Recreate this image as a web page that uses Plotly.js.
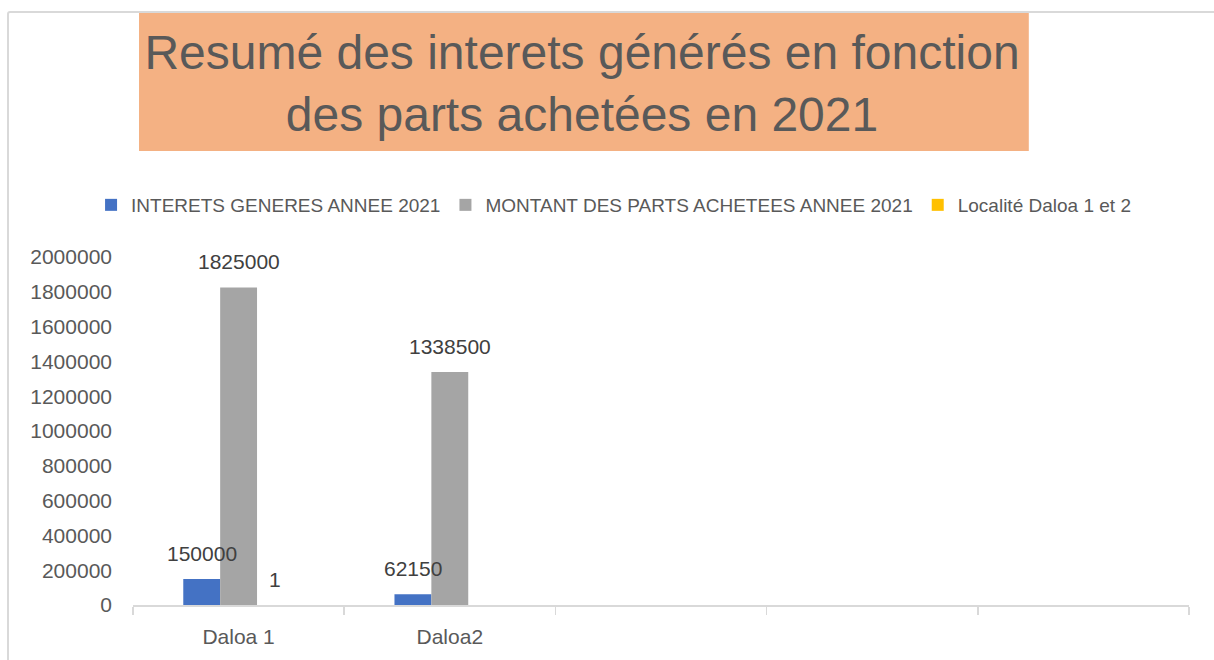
<!DOCTYPE html>
<html>
<head>
<meta charset="utf-8">
<script src="https://cdn.plot.ly/plotly-3.0.1.min.js"></script>
<style>
  html, body { margin: 0; padding: 0; background: #ffffff; overflow: hidden; }
  #frame { position: absolute; left: 7px; top: 11px; width: 1400px; height: 800px;
           border: 2px solid #d9d9d9; border-radius: 3px; box-sizing: border-box; }
  #chart { position: absolute; left: 0; top: 0; width: 1214px; height: 660px; }
</style>
</head>
<body>
<div id="frame"></div>
<div id="chart"></div>
<script>
// ---- data ----
const categories = ['Daloa 1', 'Daloa2', '', '', ''];
const seriesNames = ['INTERETS GENERES ANNEE 2021', 'MONTANT DES PARTS ACHETEES ANNEE 2021', 'Localité Daloa 1 et 2'];
const interets = [150000, 62150, null, null, null];
const montants = [1825000, 1338500, null, null, null];
const localite = [1, null, null, null, null];
const yTickValues = [0, 200000, 400000, 600000, 800000, 1000000, 1200000, 1400000, 1600000, 1800000, 2000000];
const titleText = 'Resumé des interets générés en fonction<br>des parts achetées en 2021';

// ---- styles ----
const colors = ['#4472C4', '#A5A5A5', '#FFC000'];
const textColor = '#595959';
const labelColor = '#404040';
const baseFont = 'Liberation Sans, Arial, sans-serif';
const bargap = 0.476;

const keys = categories.map((c, i) => 'cat' + i);
const allSeries = [interets, montants, localite];

const traces = allSeries.map((vals, s) => ({
  type: 'bar',
  name: seriesNames[s],
  x: keys,
  y: vals,
  marker: { color: colors[s] },
  hoverinfo: 'x+y'
}));

// data labels as annotations centred on each bar
const barW = (1 - bargap) / allSeries.length;
const annotations = [];
allSeries.forEach((vals, s) => {
  vals.forEach((v, j) => {
    if (v === null || v === undefined) return;
    annotations.push({
      x: j + (s - (allSeries.length - 1) / 2) * barW,
      y: v,
      xref: 'x', yref: 'y',
      text: String(v),
      showarrow: false,
      yanchor: 'bottom',
      yshift: 12,
      font: { family: baseFont, size: 21, color: labelColor }
    });
  });
});

const layout = {
  width: 1214,
  height: 660,
  margin: { l: 133, r: 25, t: 257, b: 55 },
  paper_bgcolor: 'rgba(0,0,0,0)',
  plot_bgcolor: 'rgba(0,0,0,0)',
  barmode: 'group',
  bargap: bargap,
  bargroupgap: 0,
  title: {
    text: titleText,
    x: 0.4794, xanchor: 'center',
    xref: 'container', yref: 'container',
    y: 0.8957, yanchor: 'middle',
    font: { family: baseFont, size: 48, color: textColor }
  },
  shapes: [{
    type: 'rect', xref: 'paper', yref: 'paper', layer: 'below',
    x0: 0.0057, x1: 0.8483, y0: 1.3046, y1: 1.7011,
    fillcolor: '#F4B183', line: { width: 0 }
  }],
  legend: {
    orientation: 'h',
    xref: 'container', yref: 'container',
    x: 0.5054, xanchor: 'center',
    y: 1 - 205 / 660, yanchor: 'middle',
    font: { family: baseFont, size: 19, color: textColor },
    itemclick: false
  },
  xaxis: {
    type: 'category',
    categoryorder: 'array',
    categoryarray: keys,
    tickvals: keys,
    ticktext: categories,
    tickson: 'boundaries',
    ticks: 'outside',
    ticklen: 8,
    tickcolor: '#d9d9d9',
    tickwidth: 1.5,
    showline: true,
    linecolor: '#d9d9d9',
    linewidth: 1.5,
    showgrid: false,
    zeroline: false,
    ticklabelstandoff: 12,
    tickfont: { family: baseFont, size: 21, color: textColor }
  },
  yaxis: {
    range: [0, 2000000],
    tickvals: yTickValues,
    ticktext: yTickValues.map(String),
    showgrid: false,
    zeroline: false,
    showline: false,
    ticks: '',
    ticklabelstandoff: 20,
    tickfont: { family: baseFont, size: 21, color: textColor }
  },
  annotations: annotations,
  showlegend: true
};

Plotly.newPlot('chart', traces, layout, { displayModeBar: false, staticPlot: true });
</script>
</body>
</html>
